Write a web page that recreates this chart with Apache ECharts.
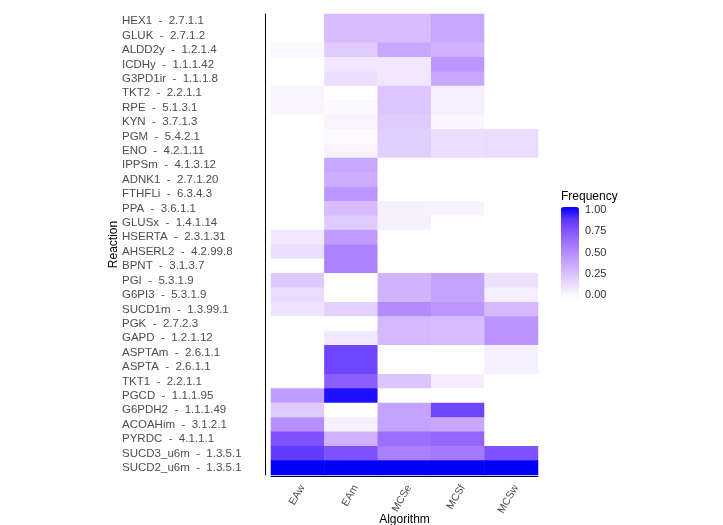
<!DOCTYPE html>
<html>
<head>
<meta charset="utf-8">
<title>Reaction frequency by algorithm</title>
<script src="https://cdn.jsdelivr.net/npm/echarts@6/dist/echarts.min.js"></script>
<style>
  html, body { margin: 0; padding: 0; background: #fff; }
  #chart { width: 723px; height: 525px; }
</style>
</head>
<body>
<div id="chart"></div>
<script>
// x axis categories
const algorithms = ['EAw', 'EAm', 'MCSe', 'MCSf', 'MCSw']

// reactions, top to bottom
const reactions = [
  'HEX1', 'GLUK', 'ALDD2y', 'ICDHy', 'G3PD1ir', 'TKT2', 'RPE', 'KYN',
  'PGM', 'ENO', 'IPPSm', 'ADNK1', 'FTHFLi', 'PPA', 'GLUSx', 'HSERTA',
  'AHSERL2', 'BPNT', 'PGI', 'G6PI3', 'SUCD1m', 'PGK', 'GAPD', 'ASPTAm',
  'ASPTA', 'TKT1', 'PGCD', 'G6PDH2', 'ACOAHim', 'PYRDC', 'SUCD3_u6m', 'SUCD2_u6m'
]
const ecNumbers = [
  '2.7.1.1', '2.7.1.2', '1.2.1.4', '1.1.1.42', '1.1.1.8', '2.2.1.1', '5.1.3.1', '3.7.1.3',
  '5.4.2.1', '4.2.1.11', '4.1.3.12', '2.7.1.20', '6.3.4.3', '3.6.1.1', '1.4.1.14', '2.3.1.31',
  '4.2.99.8', '3.1.3.7', '5.3.1.9', '5.3.1.9', '1.3.99.1', '2.7.2.3', '1.2.1.12', '2.6.1.1',
  '2.6.1.1', '2.2.1.1', '1.1.1.95', '1.1.1.49', '3.1.2.1', '4.1.1.1', '1.3.5.1', '1.3.5.1'
]

// frequency per algorithm, same order as reactions
const eaw = [
  0, 0, 0.03, 0, 0, 0.05, 0.05, 0,
  0, 0, 0, 0, 0, 0, 0, 0.1,
  0.14, 0, 0.23, 0.15, 0.12, 0, 0, 0,
  0, 0, 0.42, 0.22, 0.48, 0.75, 0.84, 1
]
const eam = [
  0.28, 0.28, 0.22, 0.1, 0.14, 0, 0.03, 0.05,
  0.02, 0.05, 0.38, 0.35, 0.45, 0.28, 0.22, 0.43,
  0.54, 0.54, 0, 0, 0.2, 0, 0.1, 0.8,
  0.8, 0.7, 0.96, 0, 0.06, 0.33, 0.75, 1
]
const mcse = [
  0.28, 0.28, 0.38, 0.1, 0.1, 0.24, 0.24, 0.22,
  0.21, 0.21, 0, 0, 0, 0.06, 0.06, 0,
  0, 0, 0.32, 0.32, 0.5, 0.3, 0.3, 0,
  0, 0.25, 0, 0.4, 0.4, 0.62, 0.55, 1
]
const mcsf = [
  0.38, 0.38, 0.32, 0.45, 0.38, 0.07, 0.07, 0.04,
  0.14, 0.14, 0, 0, 0, 0.05, 0, 0,
  0, 0, 0.4, 0.4, 0.45, 0.28, 0.28, 0,
  0, 0.08, 0, 0.8, 0.38, 0.66, 0.58, 1
]
const mcsw = [
  0, 0, 0, 0, 0, 0, 0, 0,
  0.15, 0.15, 0, 0, 0, 0, 0, 0,
  0, 0, 0.13, 0.07, 0.3, 0.46, 0.46, 0.07,
  0.07, 0, 0, 0, 0, 0, 0.75, 1
]

// colourbar ticks
const legendTicks = [0, 0.25, 0.5, 0.75, 1]

const font = 'Liberation Sans, Arial, Helvetica, sans-serif'
const columns = [eaw, eam, mcse, mcsf, mcsw]
const yLabels = reactions.map((r, i) => r + '  -  ' + ecNumbers[i])

const cells = []
columns.forEach((col, x) => {
  col.forEach((v, y) => cells.push([x, y, v]))
})

const chart = echarts.init(document.getElementById('chart'), null, { renderer: 'canvas' })

const option = {
  animation: false,
  backgroundColor: '#ffffff',
  textStyle: { fontFamily: font },
  title: {
    text: 'Frequency',
    left: 561,
    top: 191,
    padding: 0,
    textStyle: { fontSize: 12, fontWeight: 'normal', color: '#000', fontFamily: font }
  },
  grid: [
    { left: 271, top: 14, width: 267, height: 461, outerBoundsMode: 'none' },
    { left: 561, top: 210, width: 18, height: 85, outerBoundsMode: 'none' }
  ],
  xAxis: [
    {
      type: 'category',
      gridIndex: 0,
      data: algorithms,
      offset: 1,
      name: 'Algorithm',
      nameLocation: 'middle',
      nameGap: 38,
      nameMoveOverlap: false,
      nameTextStyle: { fontSize: 12, color: '#000', fontFamily: font },
      axisLine: { lineStyle: { color: '#000', width: 1 } },
      axisTick: { alignWithLabel: true, interval: 0, length: 4, lineStyle: { color: '#333' } },
      axisLabel: {
        interval: 0,
        rotate: 60,
        margin: 7,
        verticalAlign: 'top',
        fontSize: 10.5,
        color: '#4d4d4d',
        fontFamily: font
      },
      splitLine: { show: false }
    },
    { type: 'value', gridIndex: 1, show: false, min: 0, max: 1 }
  ],
  yAxis: [
    {
      type: 'category',
      gridIndex: 0,
      data: yLabels,
      inverse: true,
      offset: 6,
      name: 'Reaction',
      nameLocation: 'middle',
      nameGap: 145,
      nameMoveOverlap: false,
      nameTextStyle: { fontSize: 12, color: '#000', fontFamily: font },
      axisLine: { lineStyle: { color: '#000', width: 1 } },
      axisTick: { alignWithLabel: true, interval: 0, length: 4, lineStyle: { color: '#333' } },
      axisLabel: {
        interval: 0,
        align: 'left',
        margin: 143,
        fontSize: 11.5,
        color: '#4d4d4d',
        fontFamily: font
      },
      splitLine: { show: false }
    },
    {
      type: 'value',
      gridIndex: 1,
      position: 'right',
      min: legendTicks[0],
      max: legendTicks[legendTicks.length - 1],
      interval: legendTicks[1] - legendTicks[0],
      z: 10,
      axisLine: { show: false },
      axisTick: { show: true, inside: true, length: 3, lineStyle: { color: '#ffffff' } },
      axisLabel: {
        margin: 6,
        fontSize: 11,
        color: '#333',
        fontFamily: font,
        formatter: v => v.toFixed(2)
      },
      splitLine: { show: false }
    }
  ],
  visualMap: {
    type: 'continuous',
    seriesIndex: 0,
    min: 0,
    max: 1,
    orient: 'vertical',
    left: 561,
    top: 207,
    itemWidth: 18,
    itemHeight: 91,
    padding: 0,
    calculable: false,
    text: null,
    showLabel: false,
    hoverLink: false,
    inRange: {
      color: ['#ffffff', '#eee2ff', '#dcc4ff', '#c8a8ff', '#b38bff',
        '#9b6fff', '#7e52ff', '#5932ff', '#0000ff']
    }
  },
  series: [
    {
      type: 'heatmap',
      xAxisIndex: 0,
      yAxisIndex: 0,
      data: cells,
      emphasis: { disabled: true },
      itemStyle: { borderWidth: 0 }
    }
  ]
}

chart.setOption(option)
</script>
</body>
</html>
